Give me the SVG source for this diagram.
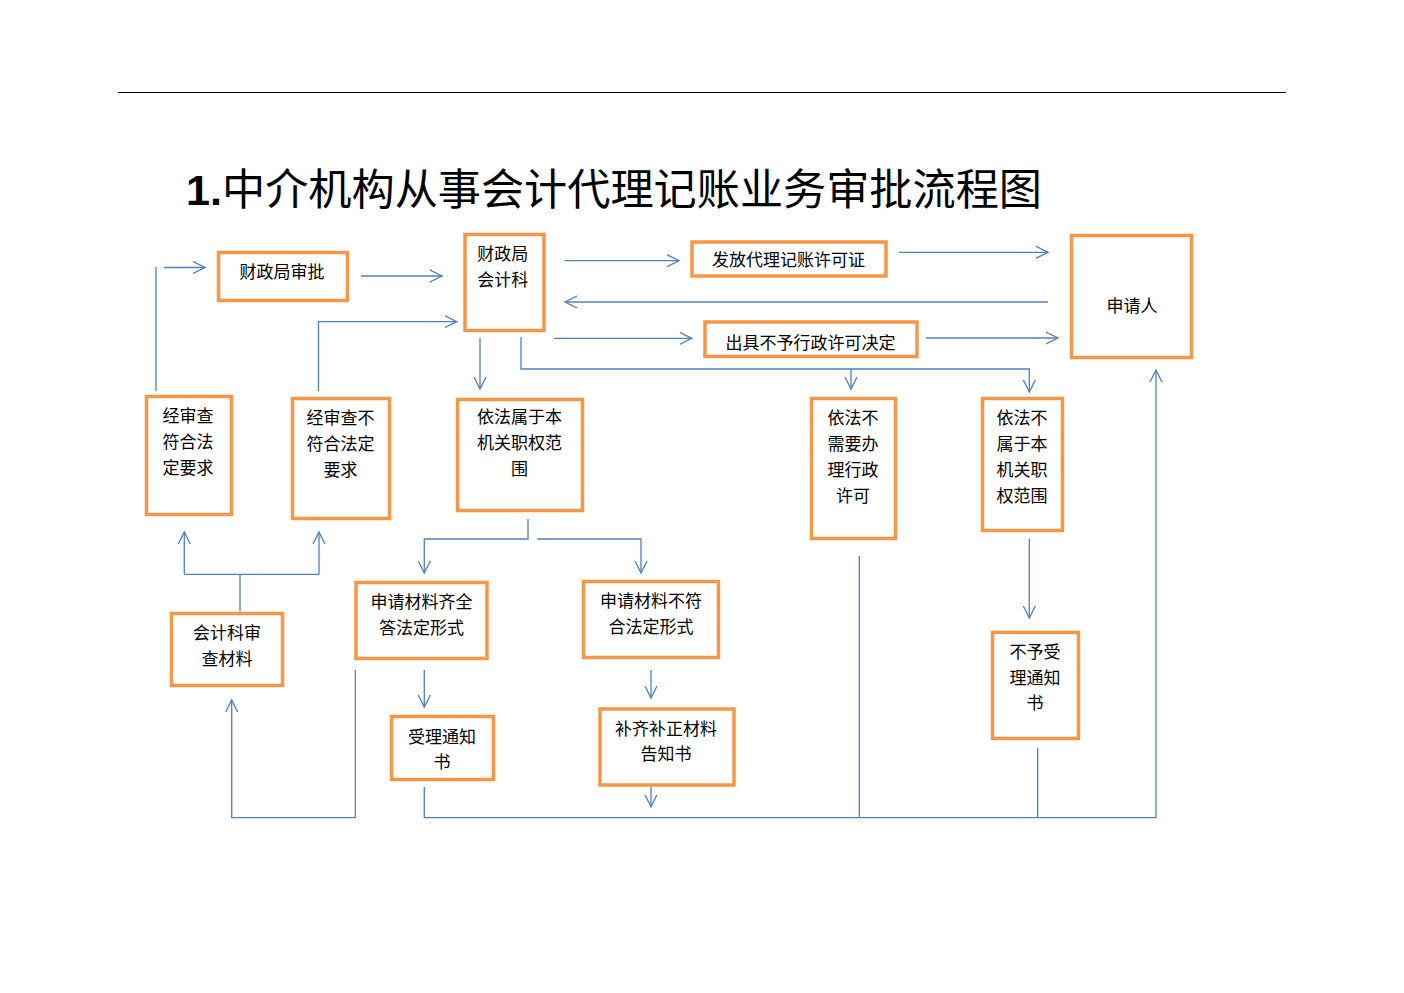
<svg xmlns="http://www.w3.org/2000/svg" width="1404" height="993" viewBox="0 0 1404 993">
<style>
.box{fill:#fff;stroke:#F79646;stroke-width:3.5}
.t{font-family:"Noto Sans CJK SC","Microsoft YaHei",sans-serif;font-size:17px;fill:#000;text-anchor:middle}
.c{fill:none;stroke:#4F81BD;stroke-width:1.3}
.a{marker-end:url(#arr)}
</style>
<defs>
<marker id="arr" markerUnits="userSpaceOnUse" markerWidth="14" markerHeight="14" viewBox="0 0 14 14" refX="12" refY="7" orient="auto">
<path d="M0,1 L12,7 L0,13" fill="none" stroke="#4F81BD" stroke-width="1.3"/>
</marker>
</defs>
<rect width="1404" height="993" fill="#fff"/>
<line x1="118" y1="92.5" x2="1286" y2="92.5" stroke="#000" stroke-width="1"/>
<text x="186" y="205" font-size="43" textLength="856" lengthAdjust="spacingAndGlyphs" font-family="'Noto Sans CJK SC',sans-serif"><tspan font-family="'Liberation Sans',sans-serif" font-weight="bold">1.</tspan>中介机构从事会计代理记账业务审批流程图</text>

<g id="connectors">
<line class="c" x1="156" y1="391" x2="156" y2="267"/>
<line class="c a" x1="164" y1="267.5" x2="205" y2="267.5"/>
<line class="c a" x1="361" y1="276" x2="442" y2="276"/>
<polyline class="c a" points="318.5,391 318.5,321.7 456.7,321.7"/>
<line class="c a" x1="480" y1="338" x2="480" y2="389"/>
<line class="c a" x1="564.6" y1="260.7" x2="679" y2="260.7"/>
<line class="c a" x1="899" y1="252.3" x2="1048" y2="252.3"/>
<line class="c a" x1="1048" y1="302" x2="565" y2="302"/>
<line class="c a" x1="554" y1="338.3" x2="691.7" y2="338.3"/>
<line class="c a" x1="926" y1="338" x2="1058" y2="338"/>
<polyline class="c a" points="521,337 521,369 1029.3,369 1029.3,392"/>
<line class="c a" x1="851" y1="369" x2="851" y2="389"/>
<polyline class="c a" points="528,519 528,539 424.3,539 424.3,573"/>
<polyline class="c a" points="537.3,539 641,539 641,573"/>
<line class="c" x1="240" y1="611.7" x2="240" y2="574.3"/>
<line class="c" x1="184.3" y1="574.3" x2="319" y2="574.3"/>
<line class="c a" x1="184.3" y1="574.3" x2="184.3" y2="532"/>
<line class="c a" x1="319" y1="574.3" x2="319" y2="532"/>
<line class="c a" x1="424.3" y1="670" x2="424.3" y2="707"/>
<line class="c a" x1="651" y1="670" x2="651" y2="698"/>
<line class="c a" x1="651" y1="786.7" x2="651" y2="806.7"/>
<polyline class="c a" points="355.4,670 355.4,817.7 231.7,817.7 231.7,700"/>
<polyline class="c a" points="424.3,787 424.3,817.7 1156,817.7 1156,370"/>
<line class="c" x1="859.3" y1="556" x2="859.3" y2="817.7"/>
<line class="c a" x1="1029.3" y1="539" x2="1029.3" y2="618"/>
<line class="c" x1="1037.7" y1="747.7" x2="1037.7" y2="817.7"/>
</g>

<g id="n-approve">
<rect class="box" x="218.5" y="252.5" width="129" height="48"/>
<text class="t" x="282" y="277.5">财政局审批</text>
</g>
<g id="n-kjk">
<rect class="box" x="465" y="234.5" width="79" height="96"/>
<text class="t" x="502.7" y="260">财政局</text>
<text class="t" x="502.7" y="286">会计科</text>
</g>
<g id="n-issue">
<rect class="box" x="692" y="242" width="194" height="34"/>
<text class="t" x="788.5" y="266">发放代理记账许可证</text>
</g>
<g id="n-refuse">
<rect class="box" x="705" y="322" width="212" height="34.5"/>
<text class="t" x="810.5" y="349">出具不予行政许可决定</text>
</g>
<g id="n-applicant">
<rect class="box" x="1071.5" y="235.5" width="120" height="122"/>
<text class="t" x="1132" y="312">申请人</text>
</g>
<g id="n-pass">
<rect class="box" x="146.5" y="396.5" width="85" height="118"/>
<text class="t" x="188" y="422">经审查</text>
<text class="t" x="188" y="448">符合法</text>
<text class="t" x="188" y="474">定要求</text>
</g>
<g id="n-fail">
<rect class="box" x="292.5" y="398.5" width="97" height="120"/>
<text class="t" x="340.5" y="424">经审查不</text>
<text class="t" x="340.5" y="450">符合法定</text>
<text class="t" x="340.5" y="476">要求</text>
</g>
<g id="n-within">
<rect class="box" x="457.5" y="399.5" width="125" height="111"/>
<text class="t" x="519.5" y="423">依法属于本</text>
<text class="t" x="519.5" y="449">机关职权范</text>
<text class="t" x="519.5" y="475">围</text>
</g>
<g id="n-noneed">
<rect class="box" x="811.5" y="398.5" width="84" height="140"/>
<text class="t" x="853" y="423.5">依法不</text>
<text class="t" x="853" y="449.5">需要办</text>
<text class="t" x="853" y="475.5">理行政</text>
<text class="t" x="853" y="501.5">许可</text>
</g>
<g id="n-outside">
<rect class="box" x="982.5" y="398.5" width="80" height="132"/>
<text class="t" x="1022" y="423.5">依法不</text>
<text class="t" x="1022" y="449.5">属于本</text>
<text class="t" x="1022" y="475.5">机关职</text>
<text class="t" x="1022" y="501.5">权范围</text>
</g>
<g id="n-review">
<rect class="box" x="171.5" y="613.5" width="111" height="72"/>
<text class="t" x="227" y="639">会计科审</text>
<text class="t" x="227" y="665">查材料</text>
</g>
<g id="n-complete">
<rect class="box" x="356" y="582.5" width="131" height="76"/>
<text class="t" x="421.5" y="608">申请材料齐全</text>
<text class="t" x="421.5" y="634">答法定形式</text>
</g>
<g id="n-incomplete">
<rect class="box" x="583.5" y="581.5" width="135" height="76"/>
<text class="t" x="651" y="607">申请材料不符</text>
<text class="t" x="651" y="633">合法定形式</text>
</g>
<g id="n-accept">
<rect class="box" x="391.5" y="716.5" width="102" height="63"/>
<text class="t" x="442" y="742.5">受理通知</text>
<text class="t" x="442" y="767.5">书</text>
</g>
<g id="n-supplement">
<rect class="box" x="600" y="709" width="134" height="76"/>
<text class="t" x="666" y="734.5">补齐补正材料</text>
<text class="t" x="666" y="760">告知书</text>
</g>
<g id="n-reject">
<rect class="box" x="992.5" y="632.5" width="86" height="106"/>
<text class="t" x="1035" y="657.5">不予受</text>
<text class="t" x="1035" y="684">理通知</text>
<text class="t" x="1035" y="709">书</text>
</g>
</svg>
